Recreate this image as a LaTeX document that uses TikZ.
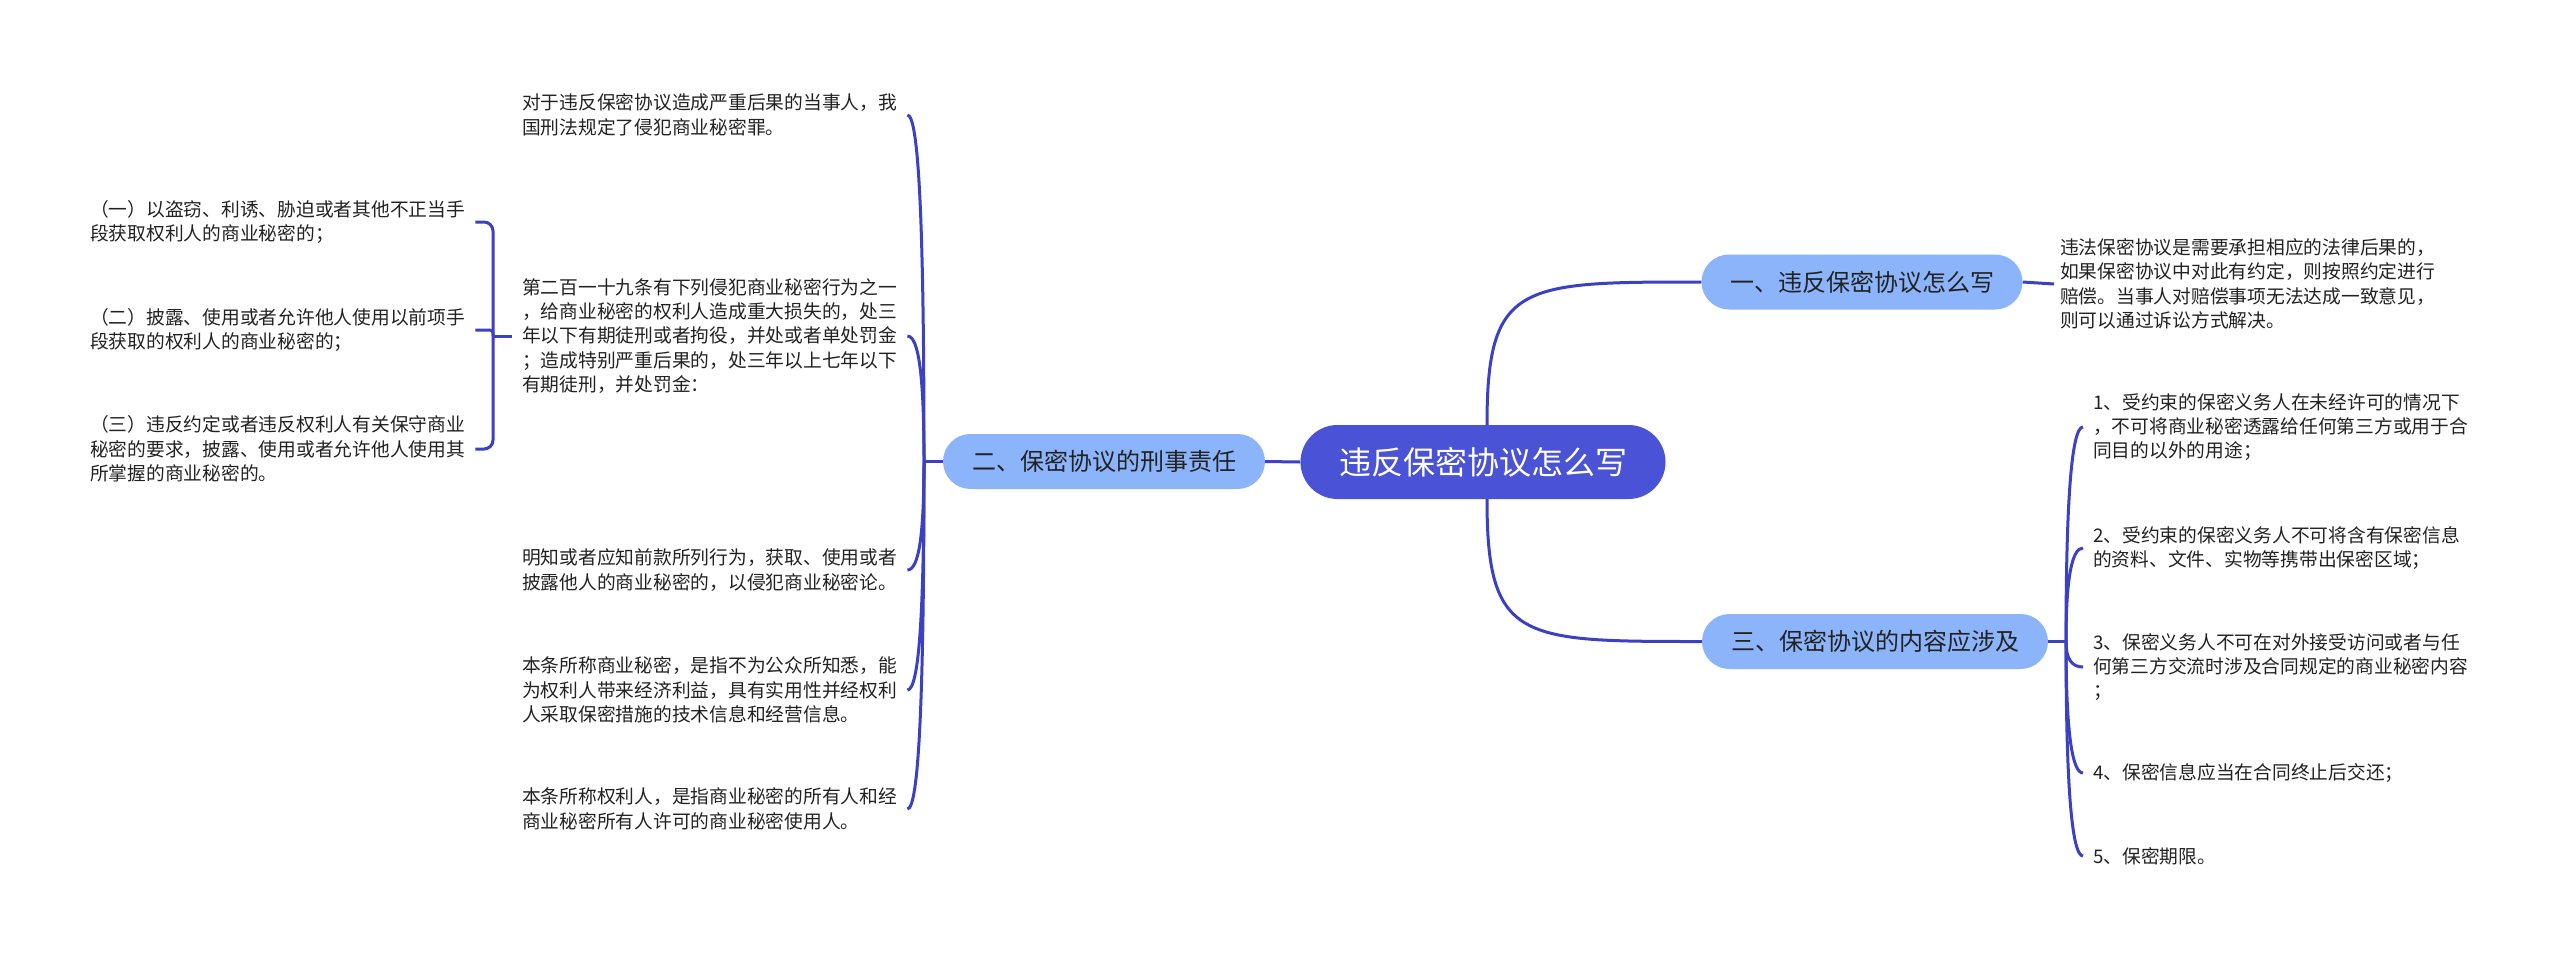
\documentclass[tikz,border=0pt]{standalone}
\usepackage{fontspec}
\setmainfont{Noto Sans CJK SC}
\definecolor{lineblue}{HTML}{3B41C2}
\definecolor{rootblue}{HTML}{4A52D6}
\definecolor{mainblue}{HTML}{8CB4FA}
\definecolor{txt}{HTML}{222222}
\begin{document}
\begin{tikzpicture}[x=1pt,y=-1pt,
  conn/.style={draw=lineblue,line width=3pt},
  rootnode/.style={fill=rootblue,rounded corners=37pt,minimum width=365pt,minimum height=74pt,text=white,font=\fontsize{32}{36}\selectfont,inner sep=0pt},
  mainnode/.style={fill=mainblue,rounded corners=27.5pt,minimum height=55pt,text=txt,font=\fontsize{24}{28}\selectfont,inner sep=0pt},
  leaf/.style={align=left,text=txt,font=\fontsize{18.75}{24.4}\selectfont,inner xsep=10pt,inner ysep=0pt},
]
\fill[white] (0,0) rectangle (2560,959);
\useasboundingbox (0,0) rectangle (2560,959);

% root and main branches
\node[rootnode] (c) at (1483,462) {违反保密协议怎么写};
\node[mainnode,minimum width=322pt] (n2) at (1104,461.5) {二、保密协议的刑事责任};
\node[mainnode,minimum width=321pt] (n1) at (1862,282) {一、违反保密协议怎么写};
\node[mainnode,minimum width=346pt] (n3) at (1875,641.5) {三、保密协议的内容应涉及};

% branch 一 leaf
\node[leaf,anchor=west,inner xsep=6pt] (a1) at (2054,284) {违法保密协议是需要承担相应的法律后果的，\\如果保密协议中对此有约定，则按照约定进行\\赔偿。当事人对赔偿事项无法达成一致意见，\\则可以通过诉讼方式解决。};

% branch 二 leaves
\node[leaf,anchor=west] (b1) at (512,115) {对于违反保密协议造成严重后果的当事人，我\\国刑法规定了侵犯商业秘密罪。};
\node[leaf,anchor=west] (b2) at (512,336) {第二百一十九条有下列侵犯商业秘密行为之一\\，给商业秘密的权利人造成重大损失的，处三\\年以下有期徒刑或者拘役，并处或者单处罚金\\；造成特别严重后果的，处三年以上七年以下\\有期徒刑，并处罚金：};
\node[leaf,anchor=west] (b3) at (512,570) {明知或者应知前款所列行为，获取、使用或者\\披露他人的商业秘密的，以侵犯商业秘密论。};
\node[leaf,anchor=west] (b4) at (512,690) {本条所称商业秘密，是指不为公众所知悉，能\\为权利人带来经济利益，具有实用性并经权利\\人采取保密措施的技术信息和经营信息。};
\node[leaf,anchor=west] (b5) at (512,809) {本条所称权利人，是指商业秘密的所有人和经\\商业秘密所有人许可的商业秘密使用人。};

% grandchildren of b2
\node[leaf,anchor=west] (g1) at (80,222) {（一）以盗窃、利诱、胁迫或者其他不正当手\\段获取权利人的商业秘密的；};
\node[leaf,anchor=west] (g2) at (80,330) {（二）披露、使用或者允许他人使用以前项手\\段获取的权利人的商业秘密的；};
\node[leaf,anchor=west] (g3) at (80,449) {（三）违反约定或者违反权利人有关保守商业\\秘密的要求，披露、使用或者允许他人使用其\\所掌握的商业秘密的。};

% branch 三 leaves
\node[leaf,anchor=west] (r1) at (2083,427) {1、受约束的保密义务人在未经许可的情况下\\，不可将商业秘密透露给任何第三方或用于合\\同目的以外的用途；};
\node[leaf,anchor=west] (r2) at (2083,548) {2、受约束的保密义务人不可将含有保密信息\\的资料、文件、实物等携带出保密区域；};
\node[leaf,anchor=west] (r3) at (2083,667) {3、保密义务人不可在对外接受访问或者与任\\何第三方交流时涉及合同规定的商业秘密内容\\；};
\node[leaf,anchor=west] (r4) at (2083,773) {4、保密信息应当在合同终止后交还；};
\node[leaf,anchor=west] (r5) at (2083,856) {5、保密期限。};

% junction points
\coordinate (jl) at (924,461.5);
\coordinate (jr) at (2066,641.5);
\coordinate (jg) at (493,336);

% root connectors
\draw[conn] (c.west) -- (n2.east);
\draw[conn] ([xshift=4pt]c.north) .. controls (1487,282) and (1520,282) .. (n1.west);
\draw[conn] ([xshift=4pt]c.south) .. controls (1487,641.5) and (1520,641.5) .. (n3.west);

% 一
\draw[conn] (n1.east) -- (a1.west);

% 二
\draw[conn] (n2.west) -- (jl);
\draw[conn] (jl) .. controls (924,230) and (919,115) .. (b1.east);
\draw[conn] (jl) .. controls (924,378) and (919,336) .. (b2.east);
\draw[conn] (jl) .. controls (924,534) and (919,570) .. (b3.east);
\draw[conn] (jl) .. controls (924,614) and (919,690) .. (b4.east);
\draw[conn] (jl) .. controls (924,693) and (919,809) .. (b5.east);

% grandchildren bracket
\draw[conn] (b2.west) -- (jg);
\draw[conn,rounded corners=9pt] (jg) |- (g1.east);
\draw[conn,rounded corners=3pt] (jg) |- (g2.east);
\draw[conn,rounded corners=9pt] (jg) |- (g3.east);

% 三
\draw[conn] (n3.east) -- (jr);
\draw[conn] (jr) .. controls (2066,499) and (2071.7,427) .. (r1.west);
\draw[conn] (jr) .. controls (2066,579) and (2071.7,548) .. (r2.west);
\draw[conn] (jr) .. controls (2066,659) and (2071.7,667) .. (r3.west);
\draw[conn] (jr) .. controls (2066,729) and (2071.7,773) .. (r4.west);
\draw[conn] (jr) .. controls (2066,785) and (2071.7,856) .. (r5.west);
\end{tikzpicture}
\end{document}
